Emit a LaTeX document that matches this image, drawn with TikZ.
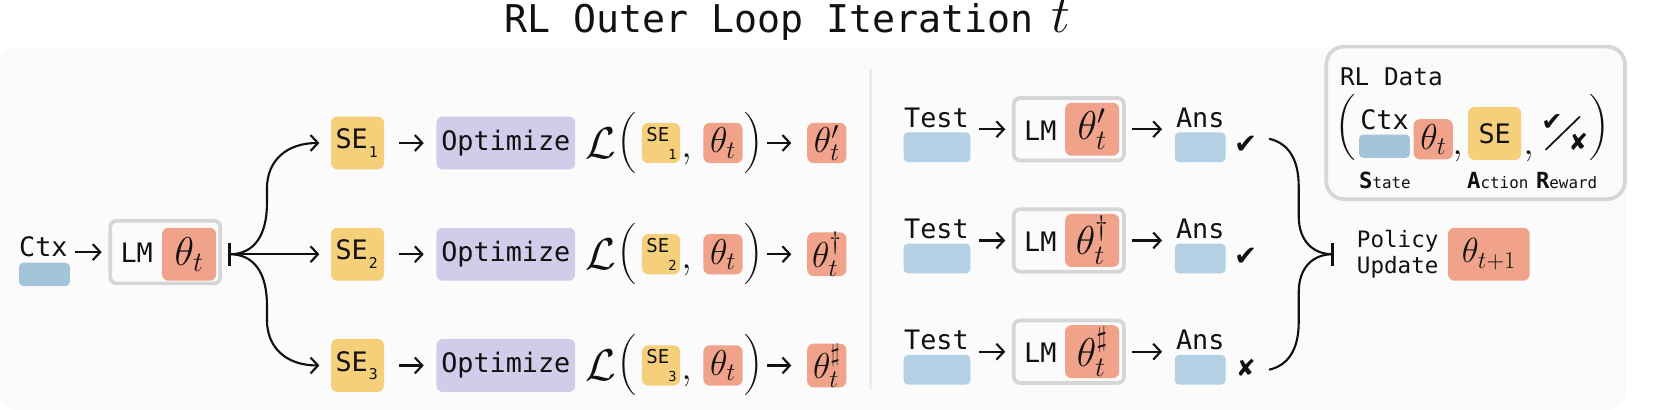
\documentclass[tikz,border=0pt]{standalone}
\usepackage{fix-cm}
\usepackage[no-math]{fontspec}
\usepackage{amssymb}
\usetikzlibrary{arrows.meta,calc}
\setmonofont{DejaVu Sans Mono}
\newfontfamily\symfont{DejaVu Sans}
\newcommand{\fsz}[1]{\fontsize{#1}{#1}\selectfont}
\newcommand{\idx}[1]{\makebox[0pt][l]{\raisebox{-8pt}{\hspace{1pt}\fsz{14}#1}}\hspace{11pt}}
\newcommand{\idxs}[1]{\raisebox{5pt}{SE}\makebox[0pt][l]{\raisebox{-12pt}{\hspace{-1pt}\fsz{13}#1}}\hspace{6pt}}
\definecolor{panel}{HTML}{FBFBFB}
\definecolor{ctxc}{HTML}{A3C4D9}
\definecolor{testc}{HTML}{B3D0E5}
\definecolor{thetac}{HTML}{F0A38A}
\definecolor{sec}{HTML}{F6CF7A}
\definecolor{optc}{HTML}{CFCDE9}
\definecolor{bordc}{HTML}{D6D6D6}
\definecolor{ink}{HTML}{111111}
\tikzset{
  box/.style={inner sep=0pt,outer sep=0pt,rounded corners=6pt,align=center,text=ink},
  mono/.style={inner sep=0pt,outer sep=0pt,font=\ttfamily\fsz{25.3},text=ink,align=left},
  lmbox/.style={box,draw=bordc,line width=3.5pt,fill=panel,minimum width=104pt,minimum height=59pt},
  thetabox/.style={box,fill=thetac,minimum width=51pt,minimum height=50pt,font=\fsz{38}},
  thetasm/.style={box,fill=thetac,minimum width=37pt,minimum height=38pt,font=\fsz{34}},
  sebox/.style={box,fill=sec,minimum width=50pt,minimum height=50pt,font=\ttfamily\fsz{25.3}},
  sesm/.style={box,fill=sec,minimum width=36pt,minimum height=38pt,font=\ttfamily\fsz{18}},
  optbox/.style={box,fill=optc,minimum width=131pt,minimum height=50pt,font=\ttfamily\fsz{25.3}},
  ctxrect/.style={box,fill=ctxc,rounded corners=4pt,minimum width=48pt,minimum height=22pt},
  testrect/.style={box,fill=testc,rounded corners=4pt,minimum width=63pt,minimum height=28pt},
  ansrect/.style={box,fill=testc,rounded corners=4pt,minimum width=48pt,minimum height=28pt},
  mathl/.style={inner sep=0pt,outer sep=0pt,text=ink,font=\fsz{42}},
  paren/.style={inner sep=0pt,outer sep=0pt,text=ink},
  arr/.style={-{Straight Barb[length=7pt,width=15pt,line width=2pt]},line width=2pt,draw=ink},
  curve/.style={line width=2pt,draw=ink},
  barline/.style={line width=3pt,draw=ink},
  sym/.style={inner sep=0pt,outer sep=0pt,text=ink,font=\symfont\fsz{22}},
}
\newcommand{\bigparen}[1]{$\left#1\vcenter to 50pt{\vfil}\right.$}
\newcommand{\hugeparen}[1]{$\left#1\vcenter to 58pt{\vfil}\right.$}
\begin{document}
\begin{tikzpicture}[x=1pt,y=-1pt]
\useasboundingbox (0,0) rectangle (1568,387);
% panel and title
\fill[panel,rounded corners=16pt] (0,44) rectangle (1535,387);
\node[inner sep=0pt,text=ink,anchor=base west] (title) at (476,31) {\ttfamily\fsz{36.1}RL Outer Loop Iteration\hspace{17pt}{\fsz{50}$t$}};
\coordinate (divtop) at (822,65);
\coordinate (divbot) at (822,367);
\draw[line width=2.5pt,draw=black!8] (divtop) -- (divbot);
% left input
\node[mono,anchor=base] (ctxlabel) at (41,242) {Ctx};
\node[ctxrect] (ctx) at (42,259) {};
\node[lmbox] (lm) at (156,238) {};
\node[mono] (lmtext) at (129,239) {LM};
\node[thetabox] (theta) at (178.5,240) {$\theta_t$};
\draw[arr,shorten <=5pt,shorten >=8pt] (ctx.east |- lm.west) -- (lm.west);
\coordinate (split) at (217,240);
\draw[barline] ($(split)+(0,-11)$) -- ($(split)+(0,11)$);
% rows left
\foreach \i/\y/\sup in {1/135/{\prime},2/240/{\dagger},3/345/{\sharp}}{
  \node[sebox] (se\i) at (337.5,\y) {SE\idx{\i}};
  \node[optbox] (opt\i) at (477.5,\y) {Optimize};
  \node[mathl] (loss\i) at (567,\y) {$\mathcal{L}$};
  \node[paren,font=\fsz{24}] (lp\i) at (592,\y) {\bigparen{(}};
  \node[sesm] (ses\i) at (624,\y) {\idxs{\i}};
  \node[paren,font=\fsz{36}] (com\i) at (648,\y+15) {$,$};
  \node[thetasm] (ths\i) at (682.5,\y) {$\theta_t$};
  \node[paren,font=\fsz{24}] (rp\i) at (712,\y) {\bigparen{)}};
  \node[thetasm] (out\i) at (780.5,\y) {$\theta_t^{\sup}$};
  \draw[arr,shorten <=14pt,shorten >=12pt] (se\i) -- (opt\i);
  \draw[arr,shorten <=3pt,shorten >=15pt] (rp\i.east) -- (out\i.west);
}
\draw[arr,shorten >=11pt] (split) -- (se2.west);
\draw[arr,shorten >=11pt] (split) .. controls (240,240) and (252,222) .. (252,192) -- (252,178) .. controls (252,152) and (270,135) .. (se1.west);
\draw[arr,shorten >=11pt] (split) .. controls (240,240) and (252,258) .. (252,288) -- (252,302) .. controls (252,328) and (270,345) .. (se3.west);
% rows right
\foreach \i/\y/\sup/\mk/\sz in {1/122/{\prime}/\symbol{"2714}/26,2/227/{\dagger}/\symbol{"2714}/26,3/332/{\sharp}/\symbol{"2718}/22}{
  \node[mono,anchor=base] (test\i) at (884,\y-2) {Test};
  \node[testrect] (tr\i) at (884.5,\y+17) {};
  \node[lmbox] (lm\i) at (1009,\y) {};
  \node[mono] (lmt\i) at (982,\y+1) {LM};
  \node[thetabox] (th\i) at (1031,\y) {$\theta_t^{\sup}$};
  \node[mono,anchor=base] (ans\i) at (1133,\y-2) {Ans};
  \node[ansrect] (ar\i) at (1133,\y+17) {};
  \node[sym,font=\symfont\fsz{\sz}] (chk\i) at (1176,\y+15) {\mk};
  \draw[arr,shorten <=8pt,shorten >=8pt] (tr\i.east |- lm\i.west) -- (lm\i.west);
  \draw[arr,shorten <=8pt,shorten >=12pt] (lm\i.east) -- (ar\i.west |- lm\i.east);
}
\coordinate (c1) at (1198,131);
\coordinate (c3) at (1198,349);
\coordinate (merge) at (1258,240);
\draw[curve] (c1) .. controls (1216,135) and (1226,150) .. (1226,176) -- (1226,204) .. controls (1226,228) and (1240,240) .. (merge);
\draw[curve] (c3) .. controls (1216,345) and (1226,330) .. (1226,304) -- (1226,276) .. controls (1226,252) and (1240,240) .. (merge);
\draw[line width=2.5pt,draw=ink] ($(merge)+(0,-11)$) -- ($(merge)+(0,11)$);
\node[mono,font=\ttfamily\fsz{21.3},anchor=west,align=left] (policy) at (1281,240) {Policy\\[3pt]Update};
\node[box,fill=thetac,minimum width=77pt,minimum height=50pt,font=\fsz{33}] (next) at (1405.5,240) {$\theta_{t+1}$};
% RL data box
\node[box,draw=bordc,line width=3.5pt,fill=panel,rounded corners=17pt,minimum width=282pt,minimum height=144pt] (data) at (1393,116) {};
\node[mono,anchor=base west,font=\ttfamily\fsz{23}] (datatitle) at (1265,81) {RL Data};
\node[paren,font=\fsz{26}] (dlp) at (1271,120) {\hugeparen{(}};
\node[mono,anchor=base] (dctx) at (1307,122) {Ctx};
\node[ctxrect] (dctxr) at (1307,138) {};
\node[thetasm] (dth) at (1353,131.5) {$\theta_t$};
\node[paren,font=\fsz{36}] (dc1) at (1376,148) {$,$};
\node[sebox] (dse) at (1411,126) {SE};
\node[paren,font=\fsz{36}] (dc2) at (1443,148) {$,$};
\node[sym,font=\symfont\fsz{24}] (dchk) at (1465,116) {\symbol{"2714}};
\coordinate (sla) at (1491.5,110);
\coordinate (slb) at (1459,141.5);
\draw[line width=1.6pt,draw=ink] (sla) -- (slb);
\node[sym,font=\symfont\fsz{22}] (dx) at (1490,134) {\symbol{"2718}};
\node[paren,font=\fsz{26}] (drp) at (1511,120) {\hugeparen{)}};
\node[mono,anchor=base west,font=\ttfamily\fsz{15}] (st) at (1283,178) {{\bfseries\fsz{21}S}tate};
\node[mono,anchor=base west,font=\ttfamily\fsz{15}] (ac) at (1385,178) {{\bfseries\fsz{21}A}ction};
\node[mono,anchor=base west,font=\ttfamily\fsz{15}] (re) at (1450,178) {{\bfseries\fsz{21}R}eward};
\end{tikzpicture}
\end{document}
